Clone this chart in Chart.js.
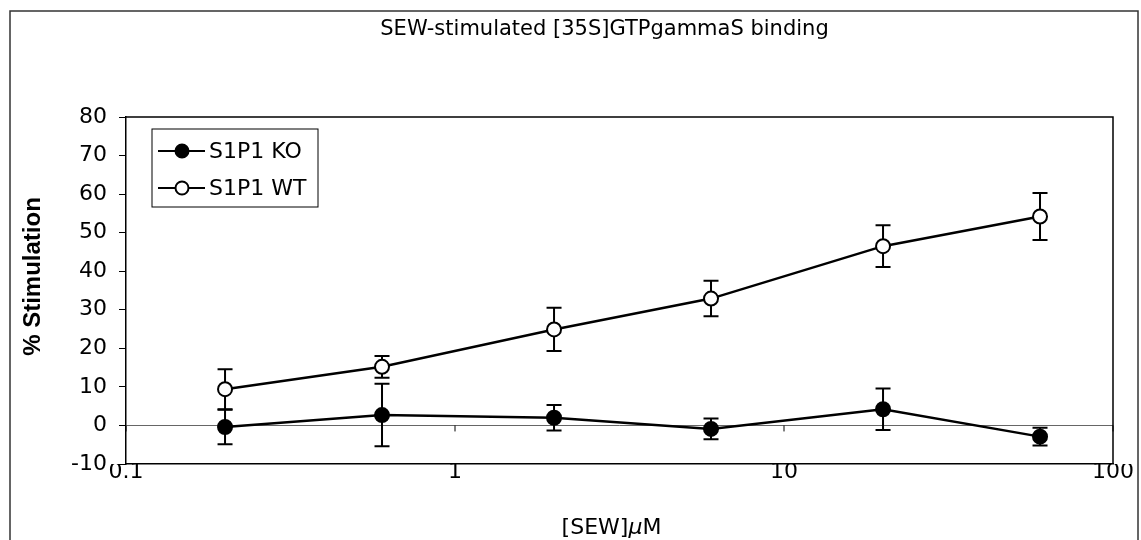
<!DOCTYPE html>
<html>
<head>
<meta charset="utf-8">
<script src="https://cdn.jsdelivr.net/npm/chart.js@4/dist/chart.umd.min.js"></script>
<style>
  html, body { margin: 0; padding: 0; background: #fff; }
  #wrap { position: relative; width: 1141px; height: 540px; }
</style>
</head>
<body>
<div id="wrap"><canvas id="chart"></canvas></div>
<script>
// [SEW] µM concentrations
const doses = [0.2, 0.6, 2, 6, 20, 60];

// % stimulation, means and error bars
const koValues = [-0.4, 2.7, 2.0, -0.9, 4.2, -2.9];
const koErrors = [4.5, 8.1, 3.3, 2.7, 5.4, 2.3];
const wtValues = [9.4, 15.2, 24.9, 32.9, 46.5, 54.2];
const wtErrors = [5.2, 2.8, 5.6, 4.6, 5.4, 6.1];

const seriesLabels = ['S1P1 KO', 'S1P1 WT'];
const xTicks = [0.1, 1, 10, 100];
const yMin = -10, yMax = 80, yStep = 10;

const chartTitle = 'SEW-stimulated [35S]GTPgammaS binding';
const yTitle = '% Stimulation';
const xTitleParts = ['[SEW]', 'μ', 'M']; // µ is set in italic

const FONT = '"DejaVu Sans", sans-serif';
const FONT_B = '"Liberation Sans", Arial, sans-serif';

const toPoints = vals => vals.map((v, i) => ({ x: doses[i], y: v }));

// ── error bars, drawn under the markers ──────────────────────────────────
const errorBars = {
  id: 'errorBars',
  beforeDatasetsDraw(chart) {
    const { ctx, scales: { x, y } } = chart;
    ctx.save();
    ctx.strokeStyle = '#000';
    ctx.lineWidth = 2;
    chart.data.datasets.forEach(ds => {
      ds.data.forEach((p, i) => {
        const e = ds.errors[i];
        const px = x.getPixelForValue(p.x);
        const top = y.getPixelForValue(p.y + e);
        const bot = y.getPixelForValue(p.y - e);
        ctx.beginPath();
        ctx.moveTo(px, top); ctx.lineTo(px, bot);
        ctx.moveTo(px - 7.5, top); ctx.lineTo(px + 7.5, top);
        ctx.moveTo(px - 7.5, bot); ctx.lineTo(px + 7.5, bot);
        ctx.stroke();
      });
    });
    ctx.restore();
  },
};

// ── frame, titles, plot border, zero-line ticks, legend box ───────────────
const frame = {
  id: 'frame',
  beforeDraw(chart) {
    const { ctx } = chart;
    ctx.save();
    ctx.strokeStyle = '#333';
    ctx.lineWidth = 1.5;
    ctx.strokeRect(10, 11, 1128, 540);
    ctx.restore();
  },
  afterDraw(chart) {
    const { ctx, chartArea: a, scales: { x, y } } = chart;
    const midX = (a.left + a.right) / 2;
    ctx.save();
    ctx.fillStyle = '#000';

    // chart title
    ctx.font = '21px ' + FONT;
    ctx.textAlign = 'center';
    ctx.textBaseline = 'middle';
    ctx.fillText(chartTitle, midX - 15, 30);

    // x title with italic µ
    const parts = xTitleParts.map((t, i) => ({
      t, font: (i === 1 ? 'oblique ' : '') + '22px ' + FONT,
    }));
    let total = 0;
    parts.forEach(p => { ctx.font = p.font; p.w = ctx.measureText(p.t).width; total += p.w; });
    let cx = midX - 8 - total / 2;
    ctx.textAlign = 'left';
    ctx.textBaseline = 'alphabetic';
    parts.forEach(p => { ctx.font = p.font; ctx.fillText(p.t, cx, 534); cx += p.w; });

    // y title
    ctx.save();
    ctx.translate(33, (a.top + a.bottom) / 2 - 14);
    ctx.rotate(-Math.PI / 2);
    ctx.font = 'bold 24px ' + FONT_B;
    ctx.textAlign = 'center';
    ctx.textBaseline = 'middle';
    ctx.fillText(yTitle, 0, 0);
    ctx.restore();

    // plot area top / right border
    ctx.strokeStyle = '#000';
    ctx.lineWidth = 1.5;
    ctx.beginPath();
    ctx.moveTo(a.left, a.top); ctx.lineTo(a.right, a.top); ctx.lineTo(a.right, a.bottom);
    ctx.stroke();

    // small tick marks hanging under the 0 line
    const y0 = y.getPixelForValue(0);
    ctx.lineWidth = 1;
    ctx.beginPath();
    xTicks.forEach(t => {
      const px = x.getPixelForValue(t);
      ctx.moveTo(px, y0); ctx.lineTo(px, y0 + 6);
    });
    ctx.stroke();

    // legend
    const lx = a.left + 26, ly = a.top + 12, lw = 166, lh = 78;
    ctx.fillStyle = '#fff';
    ctx.fillRect(lx, ly, lw, lh);
    ctx.strokeStyle = '#000';
    ctx.lineWidth = 1;
    ctx.strokeRect(lx, ly, lw, lh);
    ctx.font = '22px ' + FONT;
    ctx.textAlign = 'left';
    ctx.textBaseline = 'middle';
    chart.data.datasets.forEach((ds, i) => {
      const rowY = ly + 22 + i * 37;
      ctx.strokeStyle = '#000';
      ctx.lineWidth = 2;
      ctx.beginPath();
      ctx.moveTo(lx + 6, rowY); ctx.lineTo(lx + 53, rowY);
      ctx.stroke();
      ctx.beginPath();
      ctx.arc(lx + 30, rowY, 6.5, 0, Math.PI * 2);
      ctx.fillStyle = ds.pointBackgroundColor;
      ctx.fill();
      ctx.stroke();
      ctx.fillStyle = '#000';
      ctx.fillText(ds.label, lx + 57, rowY + 1);
    });
    ctx.restore();
  },
};

const dataset = (label, values, errors, fill) => ({
  label,
  data: toPoints(values),
  errors,
  borderColor: '#000',
  borderWidth: 2.5,
  pointRadius: 7,
  pointBorderWidth: 2,
  pointBorderColor: '#000',
  pointBackgroundColor: fill,
  tension: 0,
});

new Chart(document.getElementById('chart'), {
  type: 'line',
  data: {
    datasets: [
      dataset(seriesLabels[0], koValues, koErrors, '#000'),
      dataset(seriesLabels[1], wtValues, wtErrors, '#fff'),
    ],
  },
  options: {
    animation: false,
    responsive: true,
    maintainAspectRatio: false,
    layout: { padding: { left: 0, right: 28, top: 117, bottom: 0 } },
    plugins: {
      legend: { display: false },
      tooltip: { enabled: false },
      title: { display: false },
    },
    scales: {
      x: {
        type: 'logarithmic',
        min: xTicks[0],
        max: xTicks[xTicks.length - 1],
        afterBuildTicks: s => { s.ticks = xTicks.map(v => ({ value: v })); },
        afterFit: s => { s.height = 76; },
        grid: { display: false },
        border: { display: true, color: '#000', width: 1.5 },
        ticks: {
          color: '#000',
          font: { family: FONT, size: 22 },
          padding: -13,
          maxRotation: 0,
          autoSkip: false,
          callback: v => String(v),
        },
      },
      y: {
        min: yMin,
        max: yMax,
        afterFit: s => { s.width = 126; },
        grid: {
          drawOnChartArea: true,
          color: c => (c.tick && c.tick.value === 0 ? '#666' : 'rgba(0,0,0,0)'),
          tickColor: '#000',
          tickLength: 7,
          lineWidth: 1,
        },
        border: { display: true, color: '#000', width: 1.5 },
        ticks: {
          stepSize: yStep,
          color: '#000',
          padding: 12,
          font: { family: FONT, size: 22 },
        },
      },
    },
  },
  plugins: [errorBars, frame],
});
</script>
</body>
</html>
